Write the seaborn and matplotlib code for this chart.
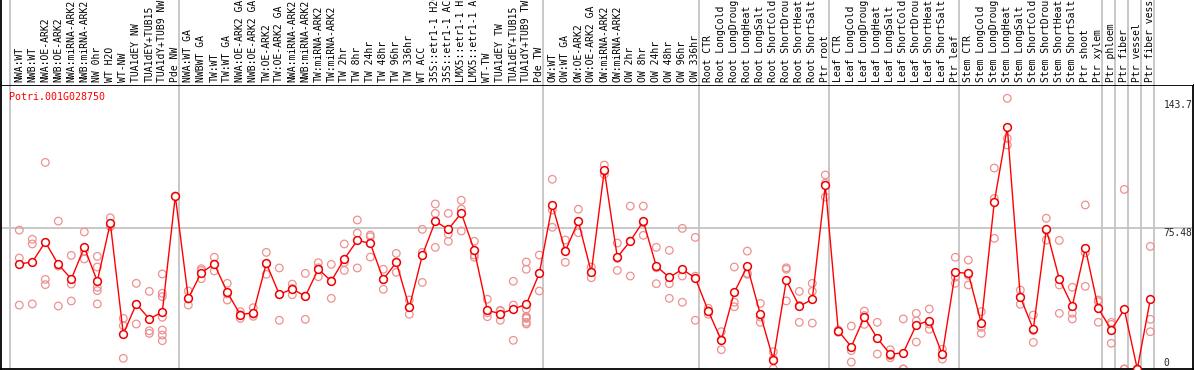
import matplotlib
matplotlib.use("Agg")
import matplotlib.pyplot as plt
import seaborn as sns
import pandas as pd
import numpy as np

# ---------------- data ----------------
labels = [
    "NWA:WT", "NWB:WT", "NWA:OE-ARK2", "NWB:OE-ARK2", "NWA:miRNA-ARK2", "NWB:miRNA-ARK2",
    "NW 0hr", "WT H2O", "WT-NW", "TUA1dEY NW", "TUA1dEY+TUB15", "TUA1dY+TUB9 NW", "Pde NW",
    "NWA:WT GA", "NWBWT GA", "TW:WT", "TW:WT GA", "NWA:OE-ARK2 GA", "NWB:OE-ARK2 GA",
    "TW:OE-ARK2", "TW:OE-ARK2 GA", "NWA:miRNA-ARK2", "NWB:miRNA-ARK2", "TW:miRNA-ARK2",
    "TW:miRNA-ARK2", "TW 2hr", "TW 8hr", "TW 24hr", "TW 48hr", "TW 96hr", "TW 336hr",
    "WT ACC", "35S::etr1-1 H2O", "35S::etr1-1 ACC", "LMX5::etr1-1 H2O", "LMX5::etr1-1 ACC",
    "WT-TW", "TUA1dEY TW", "TUA1dEY+TUB15", "TUA1dY+TUB9 TW", "Pde TW",
    "OW:WT", "OW:WT GA", "OW:OE-ARK2", "OW:OE-ARK2 GA", "OW:miRNA-ARK2", "OW:miRNA-ARK2",
    "OW 2hr", "OW 8hr", "OW 24hr", "OW 48hr", "OW 96hr", "OW 336hr",
    "Root CTR", "Root LongCold", "Root LongDrought", "Root LongHeat", "Root LongSalt",
    "Root ShortCold", "Root ShortDrought", "Root ShortHeat", "Root ShortSalt", "Ptr root",
    "Leaf CTR", "Leaf LongCold", "Leaf LongDrought", "Leaf LongHeat", "Leaf LongSalt",
    "Leaf ShortCold", "Leaf ShortDrought", "Leaf ShortHeat", "Leaf ShortSalt", "Ptr leaf",
    "Stem CTR", "Stem LongCold", "Stem LongDrought", "Stem LongHeat", "Stem LongSalt",
    "Stem ShortCold", "Stem ShortDrought", "Stem ShortHeat", "Stem ShortSalt", "Ptr shoot",
    "Ptr xylem", "Ptr phloem", "Ptr fiber", "Ptr vessel", "Ptr fiber vessel",
]

means = [
    56.0, 57.1, 67.7, 55.8, 48.0, 64.9, 46.8, 77.9, 18.7, 34.7, 26.7, 30.4, 92.3,
    37.7, 51.4, 56.0, 40.9, 29.0, 30.0, 56.4, 39.8, 42.7, 38.8, 53.3, 46.9, 58.7,
    68.6, 67.0, 47.8, 56.9, 32.9, 60.6, 78.8, 74.5, 83.2, 63.3, 31.3, 29.5, 32.0,
    34.5, 51.0,
    87.5, 62.9, 78.8, 51.6, 106.0, 59.6, 68.3, 78.8, 54.8, 48.9, 53.2, 48.5,
    30.9, 15.3, 40.9, 54.8, 29.2, 5.0, 47.3, 33.4, 37.2, 98.1,
    20.3, 11.9, 27.7, 16.4, 7.8, 8.7, 23.5, 25.8, 7.8, 51.6,
    51.0, 24.4, 89.1, 128.9, 38.4, 21.2, 74.5, 48.0, 33.6, 64.4, 32.4,
    20.8, 31.8, 0.0, 37.2,
]

replicates = [
    [74.1, 59.2, 34.1], [69.2, 66.7, 34.7], [110.2, 47.8, 45.0], [78.9, 33.6, 54.9],
    [60.6, 45.3, 36.3], [73.1, 62.9, 58.7], [60.1, 54.4, 43.6, 41.8, 34.7],
    [80.7, 76.8, 75.9], [27.0, 23.1, 5.7], [45.7, 24.0, 34.4], [41.4, 20.4, 19.0],
    [50.7, 40.4, 38.6, 27.6, 20.8, 18.1, 15.1], [92.3],
    [41.6, 34.1, 37.3], [53.5, 52.5, 48.2], [59.6, 52.3, 56.0], [45.7, 36.8, 40.0],
    [30.6, 27.0, 29.0], [32.7, 28.1, 29.3], [62.2, 50.5, 56.0], [53.9, 26.0, 39.6],
    [45.3, 39.6, 43.0], [51.0, 26.5, 38.9], [56.7, 49.2, 54.0], [55.8, 37.7, 47.0],
    [66.7, 52.6, 56.8], [79.5, 72.5, 53.9], [71.5, 70.6, 59.7], [53.2, 42.5, 47.8],
    [61.7, 51.6, 57.0], [36.8, 29.2, 32.8], [74.5, 62.2, 46.2], [88.0, 83.0, 64.9],
    [83.0, 72.0, 68.1], [90.0, 85.3, 73.6], [68.1, 60.8, 59.6], [37.2, 27.9, 30.0],
    [31.3, 31.0, 26.0], [46.8, 34.1, 15.3],
    [57.1, 53.2, 32.0, 28.1, 27.5, 27.0, 24.9, 24.0], [60.8, 41.6, 51.0],
    [101.2, 84.8, 75.6], [68.8, 56.9, 63.0], [85.2, 72.7, 78.5], [54.4, 48.7, 51.6],
    [108.8, 103.8, 105.4], [67.2, 52.6, 59.0], [86.9, 49.6, 68.3], [86.9, 71.3, 78.0],
    [64.9, 45.5, 54.0], [63.3, 45.5, 37.7], [75.0, 49.6, 35.6], [70.2, 26.0, 49.5],
    [32.4, 29.2, 31.0], [19.9, 10.3, 15.6], [54.4, 35.6, 33.2], [62.9, 50.5, 51.0],
    [35.0, 24.9, 27.7], [9.2, 0.2, 5.5], [54.0, 53.2, 36.3], [41.4, 24.9, 34.0],
    [45.7, 41.4, 24.5], [103.5, 91.7, 99.0],
    [20.8, 19.6, 20.3], [22.9, 9.8, 3.7], [30.9, 23.8, 28.5], [24.9, 8.0, 16.3],
    [10.3, 7.1, 6.0], [26.7, 0.0, 0.0], [29.7, 25.6, 14.4], [32.0, 21.2, 24.0],
    [10.5, 5.3, 7.6], [59.6, 45.7, 49.0],
    [58.1, 44.8, 50.0], [30.6, 22.2, 19.0], [107.2, 91.0, 69.7], [144.4, 123.0, 119.5],
    [42.1, 34.5, 38.6], [28.8, 14.2, 20.5], [80.4, 68.8, 74.0], [68.6, 44.8, 29.7],
    [43.6, 29.7, 26.7], [87.5, 62.0, 44.1], [36.8, 35.9, 24.9],
    [24.9, 13.7, 23.8], [95.8, 0.0, 0.0], [0.0, 0.0], [65.4, 26.5, 19.9],
]

# first sample index of each group (plus the end)
group_starts = [0, 13, 41, 53, 63, 73, 84, 85, 86, 87, 88]

gene_name = "Potri.001G028750"

# ---------------- tables ----------------
df_mean = pd.DataFrame({"idx": np.arange(len(means)), "value": means})
rep_rows = [(i, v) for i, reps in enumerate(replicates) for v in reps]
df_rep = pd.DataFrame(rep_rows, columns=["idx", "value"])

# ---------------- figure ----------------
sns.set_style("white")
plt.rcParams["font.family"] = ["DejaVu Sans Mono", "DejaVu Sans"]

W, H = 1194, 370
fig = plt.figure(figsize=(W / 100, H / 100), dpi=100)

x0_px, step_px = 19.3, 13.0
left_px, right_px = 1, 1193
plot_top_px, plot_bot_px = 85, 369

xlim = ((left_px - x0_px) / step_px, (right_px - x0_px) / step_px)
ymax = 151.5

ax = fig.add_axes([left_px / W, (H - plot_bot_px) / H,
                   (right_px - left_px) / W, (plot_bot_px - plot_top_px) / H])
axl = fig.add_axes([left_px / W, (H - plot_top_px) / H,
                    (right_px - left_px) / W, plot_top_px / H])

grid_col = "#c4c4c4"
for a in (ax, axl):
    a.set_xlim(*xlim)
    for g in group_starts:
        a.axvline(g - 0.715, color=grid_col, lw=1.3, zorder=0)
    a.set_xticks([])
    a.set_yticks([])

ax.set_ylim(0, ymax)
ax.axhline(75.48, color=grid_col, lw=1.3, zorder=0)

sns.scatterplot(data=df_rep, x="idx", y="value", ax=ax, marker="o", s=30,
                facecolor="none", edgecolor="#ee9090", linewidth=0.9, zorder=2,
                legend=False)
sns.lineplot(data=df_mean, x="idx", y="value", ax=ax, estimator=None, sort=False,
             color="#ff0000", lw=1.0, marker="o", markersize=5.6,
             markerfacecolor="white", markeredgecolor="#ee0000",
             markeredgewidth=1.1, zorder=3, legend=False)
ax.set_xlabel("")
ax.set_ylabel("")

for s in ax.spines.values():
    s.set_visible(True)
    s.set_color("black")
    s.set_linewidth(1.3)

for name, s in axl.spines.items():
    s.set_visible(name == "left")
    s.set_color("black")
    s.set_linewidth(1.3)
axl.set_ylim(0, plot_top_px)

for i, lab in enumerate(labels):
    axl.text(i, 2.5, lab, rotation=90, ha="center", va="bottom",
             fontsize=7.0, color="black", clip_on=True)

# gene name
ax.text((9.5 - x0_px) / step_px, ymax - 6.5, gene_name,
        color="#ff0000", fontsize=7.2, ha="left", va="center")

# right-hand value marks
lab_x = (1163.5 - x0_px) / step_px
ax.text(lab_x, 143.7, "143.7", fontsize=6.9, ha="left", va="top")
ax.text(lab_x, 75.48, "75.48", fontsize=6.9, ha="left", va="top")
ax.text(lab_x, 0.6, "0", fontsize=6.9, ha="left", va="bottom")

fig.savefig("out.png", dpi=100)
